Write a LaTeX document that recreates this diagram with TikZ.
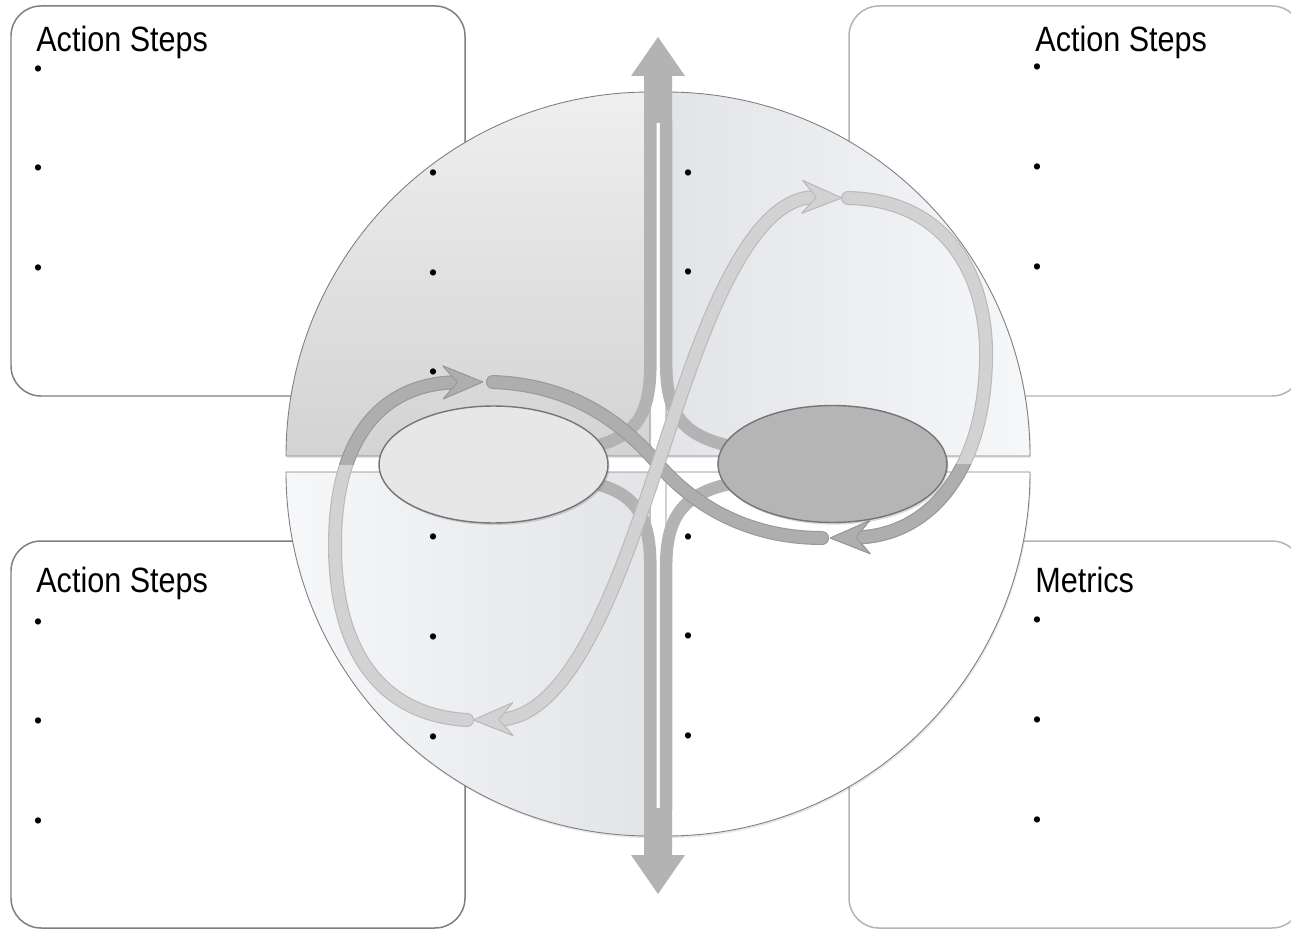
\documentclass[tikz,border=0pt]{standalone}
\usepackage{graphicx}
\usepackage{fontspec}
\setmainfont{Liberation Sans}
\usetikzlibrary{positioning,arrows.meta,shapes.geometric,shadows}
\definecolor{framedark}{HTML}{7F7F7F}
\definecolor{framepale}{HTML}{B4B4B4}
\definecolor{shaftgray}{HTML}{B3B3B3}
\definecolor{bandpale}{HTML}{D2D2D2}
\definecolor{bandpaleedge}{HTML}{B9B9B9}
\definecolor{banddark}{HTML}{AEAEAE}
\definecolor{banddarkedge}{HTML}{999999}
\definecolor{hubedge}{HTML}{757575}
\definecolor{hubpale}{HTML}{E7E7E7}
\definecolor{hubgray}{HTML}{B5B5B5}
\definecolor{qtltop}{HTML}{EFEFEF}
\definecolor{qtlbottom}{HTML}{D3D3D3}
\definecolor{qcool}{HTML}{E2E4E8}
\definecolor{qcoolpale}{HTML}{F6F7F9}
\tikzset{
  panel/.style={draw=framedark,line width=0.85pt,rounded corners=0.6cm,fill=white},
  panelpale/.style={panel,draw=framepale},
  heading/.style={anchor=base west,inner sep=0,font=\fontsize{20}{24}\selectfont},
  dot/.style={inner sep=0,font=\fontsize{13}{15}\selectfont},
  quadrant/.style={draw=framedark,line width=0.5pt,
                   drop shadow={opacity=0.18,shadow xshift=0.6pt,shadow yshift=-1.2pt}},
  shaft/.style={draw=shaftgray,line width=0.25cm},
  hub/.style={ellipse,draw=hubedge,line width=0.8pt,minimum width=4.58cm,minimum height=2.34cm,inner sep=0,
              drop shadow={opacity=0.3,shadow xshift=0.8pt,shadow yshift=-1.2pt}},
  % the loop bands: drawn twice, a wide pass for the rim and a narrow one for the body
  bandpass/.style={line cap=round},
  palehead/.style={-{Stealth[length=0.84cm,width=0.7cm,inset=0.3cm,round,fill=bandpale,color=bandpaleedge,line width=0.5pt]}},
  darkhead/.style={-{Stealth[length=0.84cm,width=0.7cm,inset=0.3cm,round,fill=banddark,color=banddarkedge,line width=0.5pt]}},
  paleheads/.style={{Stealth[length=0.84cm,width=0.7cm,inset=0.3cm,round,fill=bandpale,color=bandpaleedge,line width=0.5pt]}-{Stealth[length=0.84cm,width=0.7cm,inset=0.3cm,round,fill=bandpale,color=bandpaleedge,line width=0.5pt]}},
}

\begin{document}
\begin{tikzpicture}[x=0.02cm,y=-0.02cm]
  \useasboundingbox (0,0) rectangle (1291,929);
  \clip (0,0) rectangle (1291,929);
  % corner panels, behind the disc
  \draw[panel] (11,6) rectangle (465,396);
  \draw[panelpale] (849,6) rectangle (1302,396);
  \draw[panel] (11,541) rectangle (465,928);
  \draw[panelpale] (849,541) rectangle (1302,928);
  \node[heading] (tlhead) at (36,52) {\scalebox{0.87}[1]{Action Steps}};
  \node[heading] (trhead) at (1035,52) {\scalebox{0.87}[1]{Action Steps}};
  \node[heading] (blhead) at (36,592) {\scalebox{0.87}[1]{Action Steps}};
  \node[heading] (brhead) at (1035,592) {\scalebox{0.87}[1]{Metrics}};
  \foreach \y [count=\i] in {71,170,270} \node[dot] (tlbox\i) at (38,\y) {\textbullet};
  \foreach \y [count=\i] in {69,169,269} \node[dot] (trbox\i) at (1037,\y) {\textbullet};
  \foreach \y [count=\i] in {624,723,823} \node[dot] (blbox\i) at (38,\y) {\textbullet};
  \foreach \y [count=\i] in {622,722,822} \node[dot] (brbox\i) at (1037,\y) {\textbullet};

  % the disc, cut into four quarters with a small gap
  \draw[quadrant,top color=qtltop,bottom color=qtlbottom]
    (650,456) -- (286,456) arc[start angle=180,end angle=270,radius=364] -- cycle;
  \draw[quadrant,left color=qcool,right color=qcoolpale]
    (666,456) -- (666,92) arc[start angle=270,end angle=360,radius=364] -- cycle;
  \draw[quadrant,fill=white]
    (666,472) -- (1030,472) arc[start angle=0,end angle=90,radius=364] -- cycle;
  \draw[quadrant,left color=qcoolpale,right color=qcool]
    (650,472) -- (650,836) arc[start angle=90,end angle=180,radius=364] -- cycle;
  \foreach \y [count=\i] in {175,275,374} \node[dot] (tlq\i) at (433,\y) {\textbullet};
  \foreach \y [count=\i] in {175,274,374} \node[dot] (trq\i) at (688,\y) {\textbullet};
  \foreach \y [count=\i] in {539,639,739} \node[dot] (blq\i) at (433,\y) {\textbullet};
  \foreach \y [count=\i] in {539,638,738} \node[dot] (brq\i) at (688,\y) {\textbullet};

  % vertical double arrow, split into two strands that branch off to the hubs
  \fill[shaftgray] (658,37) -- (685,76) -- (672,76) -- (672,123) -- (644,123) -- (644,76) -- (631,76) -- cycle;
  \fill[shaftgray] (658,894) -- (685,855) -- (672,855) -- (672,808) -- (644,808) -- (644,855) -- (631,855) -- cycle;
  \coordinate (uls) at (650.3,122);
  \coordinate (urs) at (666.2,122);
  \coordinate (lls) at (650.3,809);
  \coordinate (lrs) at (666.2,809);
  \draw[shaft] (uls) -- (650.3,365) .. controls (650.3,420) and (632,437) .. (592,447);
  \draw[shaft] (urs) -- (666.2,365) .. controls (666.2,420) and (688,437) .. (734,447);
  \draw[shaft] (592,483) .. controls (632,492) and (650.3,512) .. (650.3,565) -- (lls);
  \draw[shaft] (734,483) .. controls (688,492) and (666.2,512) .. (666.2,565) -- (lrs);

  % figure-eight loop, four pieces
  \coordinate (mid) at (658,464);
  \coordinate (ll0) at (467,720);
  \coordinate (ll1) at (335,545);
  \coordinate (ll2) at (483,382);
  \coordinate (cc0) at (493,382);
  \coordinate (cc1) at (822,538);
  \coordinate (rl0) at (848,198);
  \coordinate (rl1) at (986,360);
  \coordinate (rl2) at (830,538);
  \coordinate (dd0) at (842,198);
  \coordinate (dd1) at (473,720);
  \foreach \w/\c in {0.28cm/bandpaleedge,0.235cm/bandpale}
    \draw[bandpass,line width=\w,draw=\c,palehead]
      (ll0) .. controls (380,715) and (335,650) .. (ll1) .. controls (335,425) and (392,383) .. (ll2);
  \begin{scope}
    \clip (0,0) rectangle (1291,464);
    \foreach \w/\c in {0.28cm/banddarkedge,0.235cm/banddark}
      \draw[bandpass,line width=\w,draw=\c,darkhead]
        (ll0) .. controls (380,715) and (335,650) .. (ll1) .. controls (335,425) and (392,383) .. (ll2);
  \end{scope}
  \foreach \w/\c in {0.28cm/bandpaleedge,0.235cm/bandpale}
    \draw[bandpass,line width=\w,draw=\c,palehead]
      (rl0) .. controls (950,200) and (988,280) .. (rl1) .. controls (984,470) and (930,536) .. (rl2);
  \begin{scope}
    \clip (0,464) rectangle (1291,929);
    \foreach \w/\c in {0.28cm/banddarkedge,0.235cm/banddark}
      \draw[bandpass,line width=\w,draw=\c,darkhead]
        (rl0) .. controls (950,200) and (988,280) .. (rl1) .. controls (984,470) and (930,536) .. (rl2);
  \end{scope}
  \foreach \w/\c in {0.28cm/banddarkedge,0.235cm/banddark}
    \draw[bandpass,line width=\w,draw=\c]
      (cc0) .. controls (570,385) and (620,420) .. (mid) .. controls (695,507) and (750,538) .. (cc1);
  \foreach \w/\c in {0.28cm/bandpaleedge,0.235cm/bandpale}
    \draw[bandpass,line width=\w,draw=\c,paleheads]
      (dd0) .. controls (740,195) and (690,370) .. (mid) .. controls (626,558) and (576,718) .. (dd1);

  % the two hubs
  \node[hub,fill=hubpale] (hubleft) at (493.5,464.5) {};
  \node[hub,fill=hubgray] (hubright) at (832.5,464) {};
\end{tikzpicture}
\end{document}
